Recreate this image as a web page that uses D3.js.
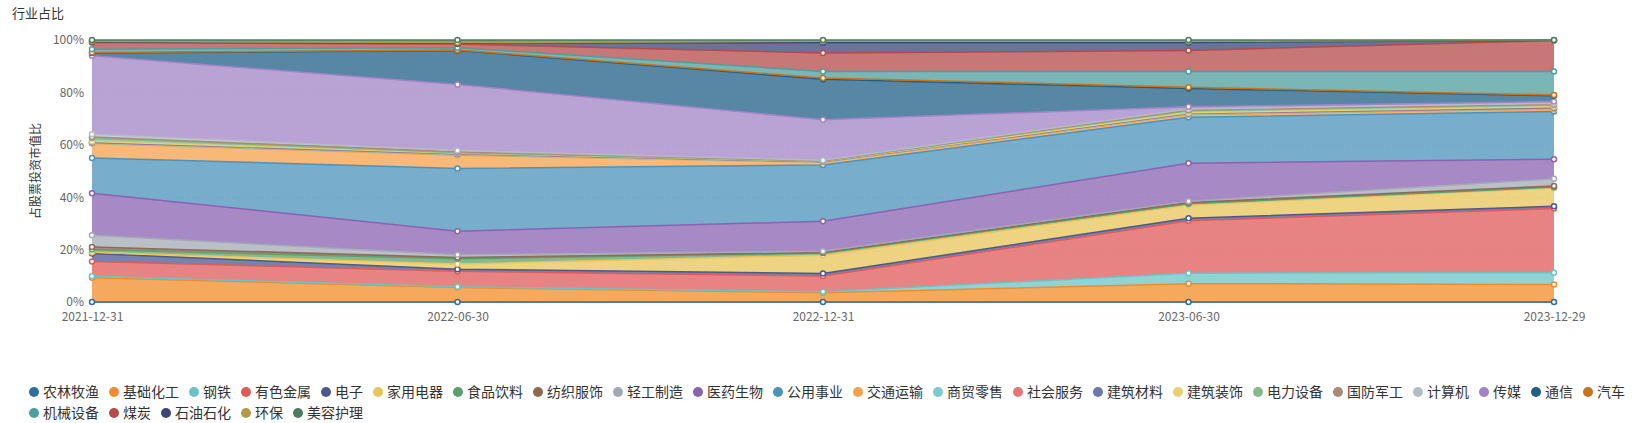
<!DOCTYPE html>
<html><head><meta charset="utf-8">
<script src="https://cdn.jsdelivr.net/npm/d3@7/dist/d3.min.js"></script>
<style>body{margin:0;background:#fff;font-family:"Noto Sans CJK SC","Noto Sans",sans-serif;overflow:hidden}</style>
</head><body><svg id="c" width="1636" height="423"></svg>
<script>
const dates=["2021-12-31","2022-06-30","2022-12-31","2023-06-30","2023-12-29"];
const dateLabels=["2021-12-31","2022-06-30","2022-12-31","2023-06-30","2023-12-29"];
const names=["农林牧渔","基础化工","钢铁","有色金属","电子","家用电器","食品饮料","纺织服饰","轻工制造","医药生物","公用事业","交通运输","商贸零售","社会服务","建筑材料","建筑装饰","电力设备","国防军工","计算机","传媒","通信","汽车","机械设备","煤炭","石油石化","环保","美容护理"];
const colors=["#2f6f9f","#f08c2a","#6cc3c6","#e05a5a","#4a5a8e","#e8c45a","#5f9e6e","#8c6b52","#a3a9b6","#8a62b2","#4b93bb","#f5a04a","#7ccbcc","#e57676","#6b78aa","#e8cf70","#86b98c","#a88b72","#b4bcc6","#a284c6","#1f5f86","#c8731c","#4e9e9e","#b54a4a","#3a4675","#b49a48","#4d7d5e"];
const values=[
[0,0,0,0,0],
[9.3,5.5,3.5,7,6.7],
[0.5,0.3,0.4,4,4.5],
[5.7,5.9,6,20,24.5],
[3,0.8,1,1,0.8],
[0.5,2,7,5,7],
[1,2,0.8,0.5,0.3],
[1,0.5,0.2,0.5,0.5],
[4.5,1,0.5,0.5,2.7],
[16,9,11.5,14.5,7.5],
[13.5,24,21.5,17.5,18.2],
[5.5,5,1,1,0.8],
[0.2,0.3,0.1,0.2,0.3],
[0.2,0.2,0.1,0.2,0.2],
[0.1,0.1,0.1,0.1,0.2],
[0.3,0.2,0.1,0.2,0.3],
[1.2,0.2,0.1,0.8,0.7],
[0.5,0.3,0.1,0.3,0.3],
[1,0.5,0.2,0.4,0.3],
[30,25.2,15.5,0.8,0.7],
[1,13,15.5,7,2.2],
[0.2,0.2,0.5,0.5,0.3],
[1.3,0.8,2.5,6,9],
[2.5,1.5,7,8,11.8],
[0.3,0.3,4,3,0.1],
[0.2,0.2,0.5,0.5,0.05],
[0.5,1,0.5,0.5,0.05]];
const yTicks=[0,0.2,0.4,0.6,0.8,1];

const svg=d3.select("#c");
const L=92,R=1554,T=40,B=302;
const rows=dates.map((d,i)=>{const o={date:d};names.forEach((n,k)=>o[n]=values[k][i]);return o;});
const stack=d3.stack().keys(names).offset(d3.stackOffsetExpand)(rows);
const x=d3.scalePoint().domain(dates).range([L,R]);
const y=d3.scaleLinear().domain([0,1]).range([B,T]);

svg.append("text").attr("x",12).attr("y",18).attr("font-size",13).attr("fill","#333").text("行业占比");
svg.append("text").attr("transform",`translate(40,${(T+B)/2}) rotate(-90)`).attr("text-anchor","middle").attr("font-size",12).attr("fill","#333").text("占股票投资市值比");

const ya=svg.append("g").attr("transform",`translate(${L},0)`).call(d3.axisLeft(y).tickValues(yTicks).tickFormat(d3.format(".0%")).tickSize(-(R-L)).tickPadding(8));
ya.select(".domain").remove();
ya.selectAll("line").attr("stroke","#e8e8e8").attr("stroke-dasharray","2,3");
ya.selectAll("text").attr("fill","#666").attr("font-size",12).attr("font-family","Noto Sans CJK SC, sans-serif");

const xa=svg.append("g").attr("transform",`translate(0,${B})`).call(d3.axisBottom(x).tickFormat((d,i)=>dateLabels[i]).tickSize(0).tickPadding(10));
xa.select(".domain").attr("stroke","#999");
xa.selectAll("text").attr("fill","#666").attr("font-size",12).attr("font-family","Noto Sans CJK SC, sans-serif");

const area=d3.area().x(d=>x(d.data.date)).y0(d=>y(d[0])).y1(d=>y(d[1]));
const line=d3.line().x(d=>x(d.data.date)).y(d=>y(d[1]));
const g=svg.append("g");
stack.forEach((s,k)=>{
  g.append("path").datum(s).attr("d",area).attr("fill",colors[k]).attr("fill-opacity",0.75);
});
stack.forEach((s,k)=>{
  g.append("path").datum(s).attr("d",line).attr("fill","none").attr("stroke",colors[k]).attr("stroke-width",1.5);
});
stack.forEach((s,k)=>{
  g.selectAll(null).data(s).enter().append("circle").attr("cx",d=>x(d.data.date)).attr("cy",d=>y(d[1])).attr("r",2.5)
   .attr("fill","#fff").attr("stroke",colors[k]).attr("stroke-width",1.5);
});

// legend
const lg=svg.append("g");
let lx=34,ly=392;
names.forEach((n,k)=>{
  if(n==="机械设备"){lx=34;ly=413;}
  lg.append("circle").attr("cx",lx).attr("cy",ly).attr("r",5).attr("fill",colors[k]);
  const t=lg.append("text").attr("x",lx+9).attr("y",ly+5).attr("font-size",14).attr("fill","#333").text(n);
  const w=t.node().getComputedTextLength();
  lx+=9+w+15;
});
</script></body></html>
